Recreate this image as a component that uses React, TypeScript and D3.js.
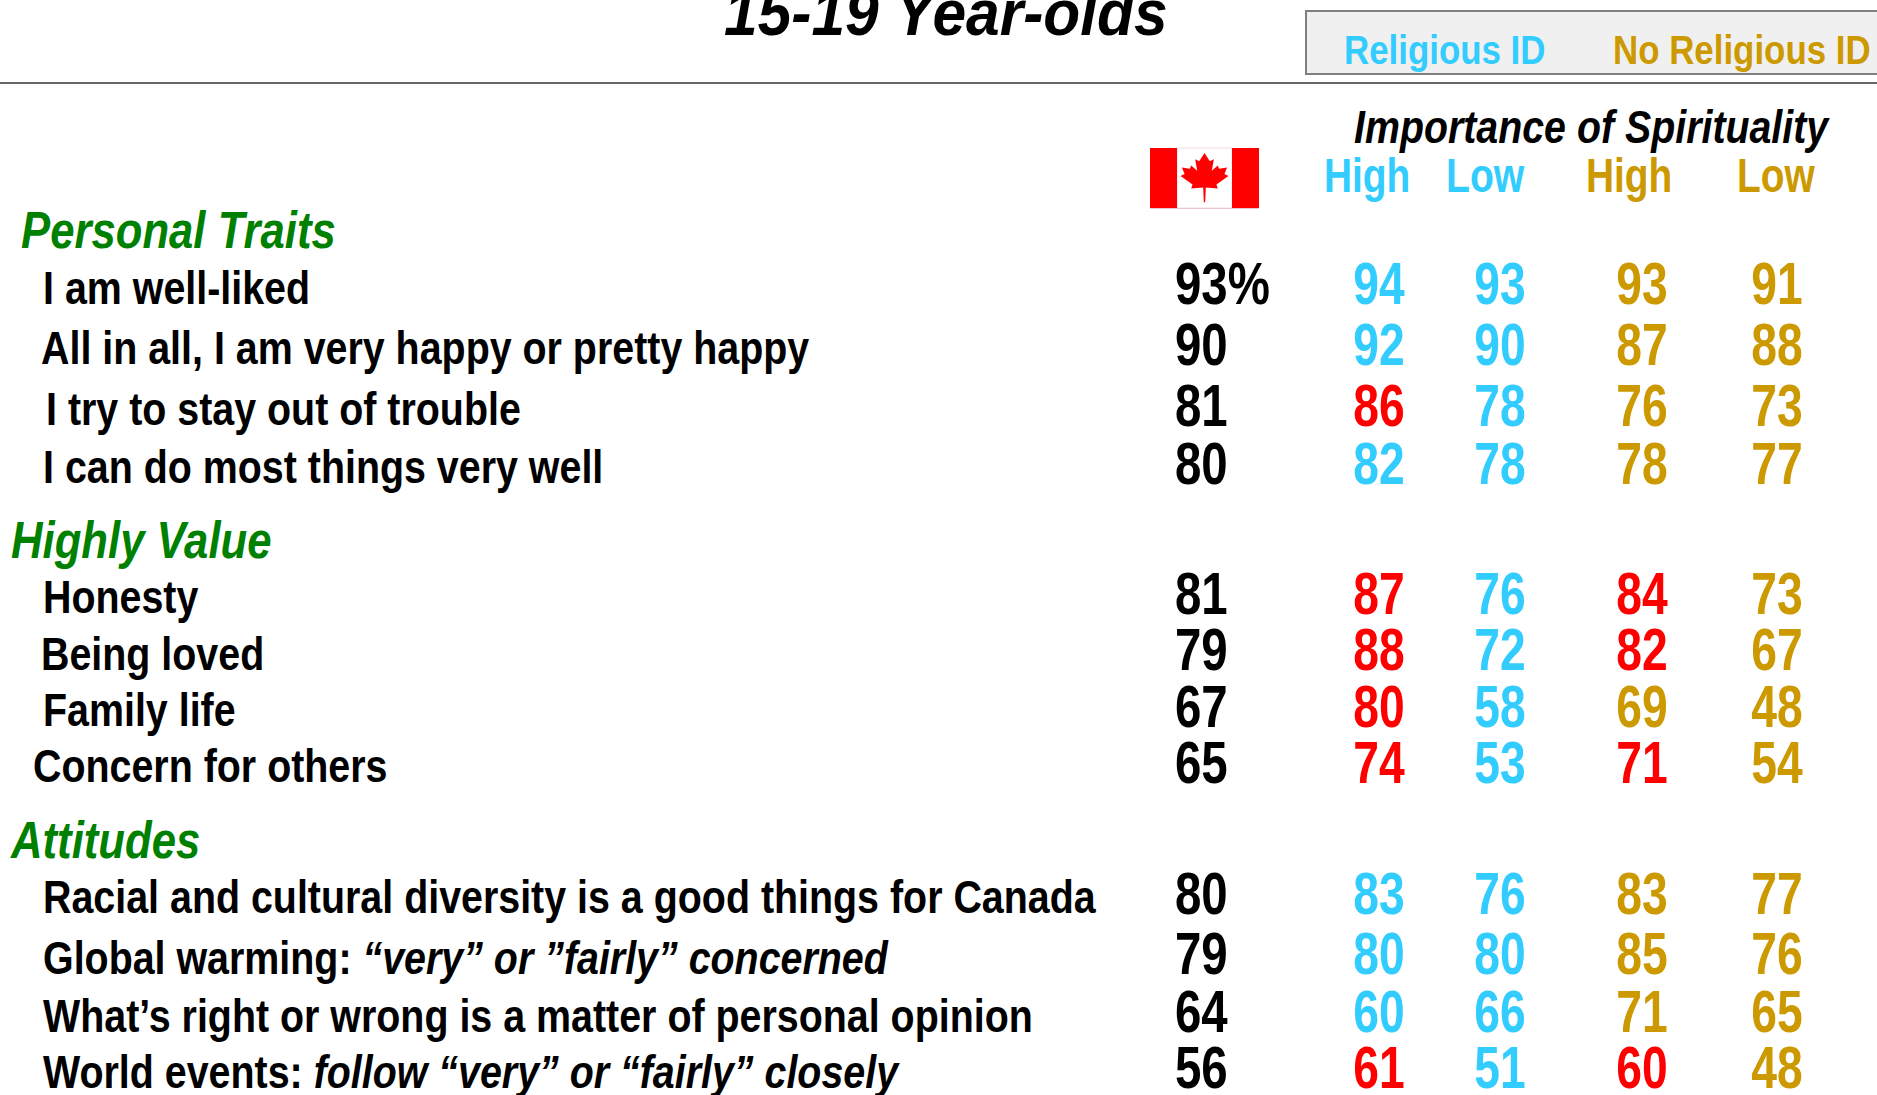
import React from "react";
import * as d3 from "d3";

const CYAN = "#33ccff", GOLD = "#cc9900", RED = "#ff0000", GREEN = "#008000";
const FONT = "'Liberation Sans', Arial, sans-serif";

const rowKeys = ["liked","happy","trouble","well","honesty","loved","family","others","diversity","warming","opinion","events"];
const labelParts: [string, boolean][][] = [
  [["I am well-liked", false]],
  [["All in all, I am very happy or pretty happy", false]],
  [["I try to stay out of trouble", false]],
  [["I can do most things very well", false]],
  [["Honesty", false]],
  [["Being loved", false]],
  [["Family life", false]],
  [["Concern for others", false]],
  [["Racial and cultural diversity is a good things for Canada", false]],
  [["Global warming: ", false], ["“very” or ”fairly” concerned", true]],
  [["What’s right or wrong is a matter of personal opinion", false]],
  [["World events: ", false], ["follow “very” or “fairly” closely", true]],
];
const canada = ["93%","90","81","80","81","79","67","65","80","79","64","56"];
const relHigh = [94,92,86,82,87,88,80,74,83,80,60,61];
const relLow = [93,90,78,78,76,72,58,53,76,80,66,51];
const noHigh = [93,87,76,78,84,82,69,71,83,85,71,60];
const noLow = [91,88,73,77,73,67,48,54,77,76,65,48];
const relHighRed = ["trouble","honesty","loved","family","others","events"];
const noHighRed = ["honesty","loved","others","events"];
const sections = ["Personal Traits","Highly Value","Attitudes"];

const rowBaseline = [304,365,426,484,614,670,727,783,914,974,1032,1088];
const labelBaseline = [304,364,425,483,613,670,726,782,913,974,1032,1088];
const labelLeft = [43,41,46,43,43,41,43,33,43,43,43,43];
const sectionBaseline = [248,558,858];
const sectionLeft = [21,11,11];

const y = d3.scaleOrdinal<string, number>(rowKeys, rowBaseline);
const yLabel = d3.scaleOrdinal<string, number>(rowKeys, labelBaseline);
const xLabel = d3.scaleOrdinal<string, number>(rowKeys, labelLeft);
const columns = ["relHigh","relLow","noHigh","noLow"];
const x = d3.scaleOrdinal<string, number>(columns, [1379,1500,1642,1777]);

function S({ x, y, sx = 0.75, size, fill = "#000", italic = false, anchor = "start", weight = "bold", children }: any) {
  return (
    <text transform={`translate(${x},${y}) scale(${sx},1)`} fontFamily={FONT} fontSize={size} fontWeight={weight}
      fontStyle={italic ? "italic" : "normal"} fill={fill} textAnchor={anchor}>
      {children}
    </text>
  );
}

const leaf = "M0,-22 L4,-14 L7,-16 L5.5,-5 L10,-10 L11,-7 L17,-8 L15,-2 L18,0 L9,8 L10,12 L1,11 L0.5,25 L-0.5,25 L-1,11 L-10,12 L-9,8 L-18,0 L-15,-2 L-17,-8 L-11,-7 L-10,-10 L-5.5,-5 L-7,-16 L-4,-14 Z";

export default function App() {
  const cols: [string, number[], string, string[]][] = [
    ["relHigh", relHigh, CYAN, relHighRed],
    ["relLow", relLow, CYAN, []],
    ["noHigh", noHigh, GOLD, noHighRed],
    ["noLow", noLow, GOLD, []],
  ];
  return (
    <svg width={1877} height={1095} style={{ position: "absolute", left: 0, top: 0, display: "block", background: "#fff" }}>
      <S x={724} y={35} size={64} italic sx={0.945}>15-19 Year-olds</S>
      <rect x={1306} y={11} width={580} height={63} fill="#f0f0f0" stroke="#808080" strokeWidth={2} />
      <line x1={0} x2={1877} y1={83} y2={83} stroke="#333" strokeWidth={1.5} />
      <S x={1344} y={64} size={40} fill={CYAN} sx={0.872}>Religious ID</S>
      <S x={1613} y={64} size={40} fill={GOLD} sx={0.872}>No Religious ID</S>
      <S x={1354} y={143} size={47} italic sx={0.837}>Importance of Spirituality</S>
      <S x={1324} y={192} size={48} fill={CYAN} sx={0.81}>High</S>
      <S x={1446} y={192} size={48} fill={CYAN} sx={0.815}>Low</S>
      <S x={1586} y={192} size={48} fill={GOLD} sx={0.81}>High</S>
      <S x={1737} y={192} size={48} fill={GOLD} sx={0.81}>Low</S>

      <g>
        <rect x={1177} y={148} width={55} height={60} fill="#fff" stroke="#f4dede" strokeWidth={1} />
        <rect x={1150} y={148} width={27} height={60} fill={RED} />
        <rect x={1232} y={148} width={27} height={60} fill={RED} />
        <line x1={1150} x2={1259} y1={208.5} y2={208.5} stroke="#ecc8cc" strokeWidth={1} />
        <path d={leaf} transform="translate(1204.5,176) scale(1.33,1.05)" fill={RED} />
      </g>

      {sections.map((s, i) => (
        <S key={s} x={sectionLeft[i]} y={sectionBaseline[i]} size={52} fill={GREEN} italic sx={0.84}>{s}</S>
      ))}
      {rowKeys.map((k, i) => (
        <g key={k}>
          <S x={xLabel(k)} y={yLabel(k)} size={47} sx={0.838}>
            {labelParts[i].map(([t, it], j) => (
              <tspan key={j} fontStyle={it ? "italic" : "normal"}>{t}</tspan>
            ))}
          </S>
          <S x={1175} y={y(k)} size={60} sx={0.79}>{canada[i]}</S>
          {cols.map(([c, vals, color, reds]) => (
            <S key={c} x={x(c)} y={y(k)} size={60} anchor="middle" sx={0.77} fill={reds.includes(k) ? RED : color}>{vals[i]}</S>
          ))}
        </g>
      ))}
    </svg>
  );
}
